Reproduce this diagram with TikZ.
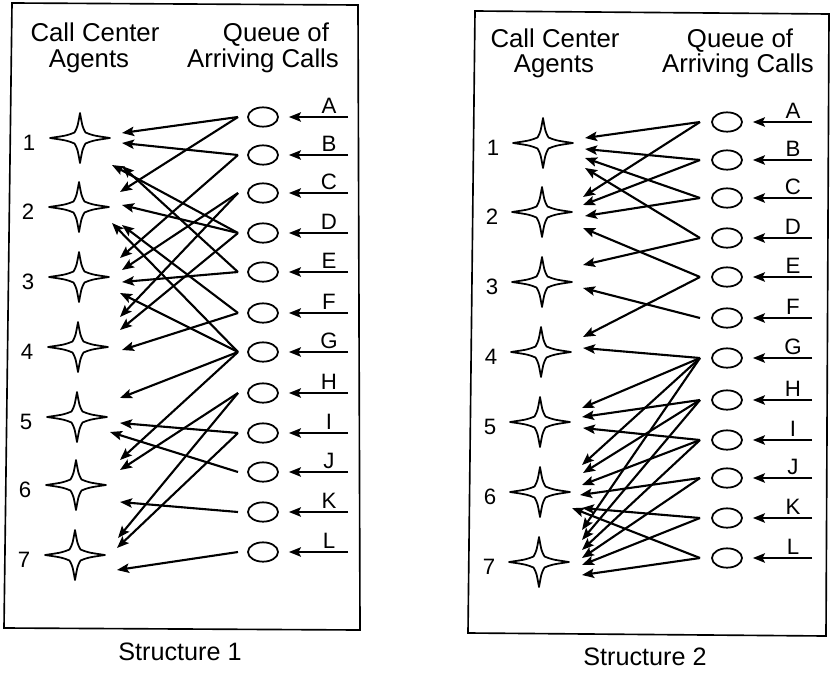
\documentclass[tikz,border=0pt]{standalone}
\usepackage{fontspec}
\setmainfont{Liberation Sans}
\usetikzlibrary{arrows.meta,calc,shapes.geometric}
\tikzset{
  arr/.style={-{Stealth[length=3.6mm,width=2.8mm,inset=0.7mm]}, line width=1.8pt},
  call/.style={ellipse, draw, line width=1.5pt, minimum width=9mm, minimum height=5.8mm, inner sep=0pt},
  title/.style={font=\fontsize{22}{25}\selectfont, anchor=base, inner sep=0pt},
  num/.style={font=\fontsize{19}{22}\selectfont, inner sep=0pt},
  lbl/.style={font=\fontsize{19}{22}\selectfont, anchor=base, inner sep=0pt},
  frame/.style={line width=1.4pt},
  structcap/.style={font=\fontsize{21.5}{24}\selectfont, inner sep=0pt},
  agent/.pic={\draw[line width=1.5pt, line join=round]
      (30,0) .. controls (13,-2.5) .. (5.5,-5.5) .. controls (2.5,-11) .. (0,-25)
      .. controls (-2.5,-11) .. (-5.5,-5.5) .. controls (-13,-2.5) .. (-30,0)
      .. controls (-13,2.5) .. (-5.5,5.5) .. controls (-2.5,11) .. (0,25)
      .. controls (2.5,11) .. (5.5,5.5) .. controls (13,2.5) .. cycle;}
}
\begin{document}
\begin{tikzpicture}[x=0.3mm,y=-0.3mm]
\useasboundingbox (0,0) rectangle (831,672);
\fill[white] (0,0) rectangle (831,672);

% ---------- Structure 1 ----------
\draw[frame] (12,3) -- (358,5) -- (360,630) -- (4,628) -- cycle;
\node[title] (lt1) at (95,42) {Call Center};
\node[title] (lt2) at (89,67) {Agents};
\node[title] (lt3) at (276,42) {Queue of};
\node[title] (lt4) at (263,67) {Arriving Calls};
\node[structcap] (lcap) at (180,652) {Structure 1};

\foreach \i/\x/\y in {1/80/138,2/79/207,3/79/277,4/78/347,5/77/417,6/76/485,7/75/555}{
  \coordinate (ls\i) at (\x,\y);
  \pic at (ls\i) {agent};
  \node[num] (lnum\i) at (\x-51,\y+5) {\i};
}
\foreach \n/\y in {A/117,B/155,C/193,D/233,E/272,F/313,G/352,H/393,I/433,J/472,K/512,L/552}{
  \node[call] (l\n) at (263,\y) {};
  \coordinate (li\n) at (348,\y);
  \draw[arr] (li\n) -- ($(l\n.east)+(10,0)$);
  \node[lbl] (ll\n) at (329,\y-4) {\n};
}
\foreach \s/\t/\dx/\dy in {
  lA/ls1/42/-5, lA/ls2/41/-15,
  lB/ls1/42/5, lB/ls3/41/-19,
  lC/ls3/43/-7, lC/ls4/42/-30,
  lD/ls1/32/27, lD/ls2/43/-2, lD/ls4/42/-17,
  lE/ls1/42/28, lE/ls3/43/5,
  lF/ls2/43/18, lF/ls4/44/3,
  lG/ls2/33/16, lG/ls3/41/16, lG/ls5/43/-19, lG/ls6/44/-25,
  lH/ls6/44/-15, lH/ls7/43/-17,
  lI/ls5/43/6, lI/ls7/42/-7,
  lJ/ls5/33/15,
  lK/ls6/44/17,
  lL/ls7/42/15}{
  \draw[arr] ($(\s)+(-25,0)$) -- ($(\t)+(\dx,\dy)$);
}

% ---------- Structure 2 ----------
\draw[frame] (475,11) -- (829,14) -- (826,636) -- (468,633) -- cycle;
\node[title] (rt1) at (555,48) {Call Center};
\node[title] (rt2) at (554,73) {Agents};
\node[title] (rt3) at (740,48) {Queue of};
\node[title] (rt4) at (738,73) {Arriving Calls};
\node[structcap] (rcap) at (645,657) {Structure 2};

\foreach \i/\x/\y in {1/543/143,2/542/212,3/542/282,4/541/352,5/540/422,6/540/492,7/539/562}{
  \coordinate (rs\i) at (\x,\y);
  \pic at (rs\i) {agent};
  \node[num] (rnum\i) at (\x-50,\y+5) {\i};
}
\foreach \n/\y in {A/122,B/160,C/198,D/238,E/277,F/318,G/358,H/400,I/440,J/478,K/518,L/558}{
  \node[call] (r\n) at (727,\y) {};
  \coordinate (ri\n) at (812,\y);
  \draw[arr] (ri\n) -- ($(r\n.east)+(10,0)$);
  \node[lbl] (rl\n) at (793,\y-4) {\n};
}
\foreach \s/\t/\dx/\dy in {
  rA/rs1/42/-5, rA/rs2/41/-15,
  rB/rs1/42/6, rB/rs2/41/-7,
  rC/rs1/42/15, rC/rs2/43/4,
  rD/rs1/42/25, rD/rs3/41/-17,
  rE/rs2/41/16, rE/rs4/42/-15,
  rF/rs3/41/6,
  rG/rs4/42/-4, rG/rs5/42/-14, rG/rs6/42/-27, rG/rs7/43/-32,
  rH/rs5/42/-5, rH/rs6/43/-19, rH/rs7/43/-22,
  rI/rs5/43/6, rI/rs6/42/-7, rI/rs7/43/-12,
  rJ/rs6/40/3, rJ/rs7/43/-4,
  rK/rs6/42/16, rK/rs7/43/3,
  rL/rs6/32/16, rL/rs7/43/13}{
  \draw[arr] ($(\s)+(-27,0)$) -- ($(\t)+(\dx,\dy)$);
}
\end{tikzpicture}
\end{document}
